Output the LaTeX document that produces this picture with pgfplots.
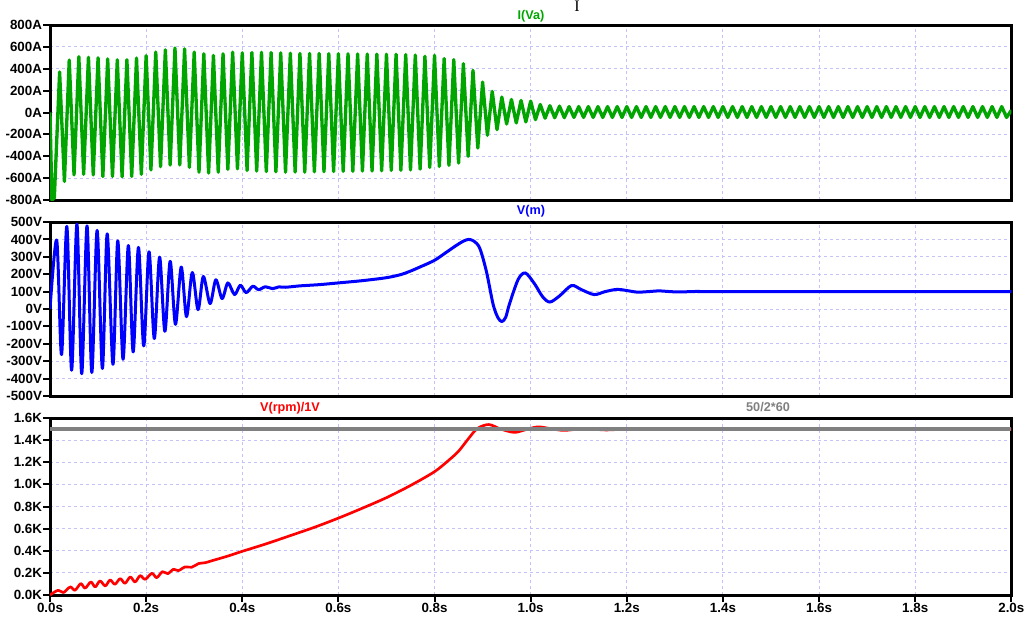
\documentclass[border=0pt]{standalone}
\usepackage{pgfplots}
\pgfplotsset{compat=1.18}
\usepackage{fontspec}
\setmainfont{Liberation Sans}
\newfontfamily\serifI{Liberation Serif}
\definecolor{ltgreen}{RGB}{0,165,0}
\definecolor{ltblue}{RGB}{0,0,255}
\definecolor{ltred}{RGB}{255,0,0}
\definecolor{ltgray}{RGB}{128,128,128}
\definecolor{gridc}{RGB}{195,195,250}
\pgfplotsset{ltsp/.style={
  scale only axis, width=721pt, xmin=0, xmax=2,
  xtick={0,0.2,0.4,0.6,0.8,1,1.2,1.4,1.6,1.8,2},
  grid=major,
  major grid style={gridc, line width=0.75pt, dash pattern=on 2.25pt off 2.25pt},
  axis line style={line width=2.25pt},
  tick align=outside, tick pos=left, major tick length=5.25pt,
  tick style={line width=1.5pt, black},
  ticklabel style={font=\fontsize{10}{11}\selectfont\bfseries},
  yticklabel style={inner sep=0.6pt},
  xticklabel style={inner sep=0.6pt},
}}
\begin{document}
\begin{tikzpicture}
\path[use as bounding box] (0,0) rectangle (773.25pt,-465.75pt);
% ---------- panel 1 ----------
\begin{axis}[ltsp, at={(37.5pt,-150pt)}, anchor=south west, height=131.25pt,
  ymin=-800, ymax=800,
  ytick={-800,-600,-400,-200,0,200,400,600,800},
  yticklabels={-800A,-600A,-400A,-200A,0A,200A,400A,600A,800A},
  xticklabels={}, major x tick style={draw=none}]
\addplot[ltgreen, line width=2.5pt, line join=round] coordinates {
(0,0) (0.004,-800) (0.009,-780) (0.02,370) (0.03,-630) (0.04,480) (0.05,-570) (0.06,510) (0.07,-565) (0.08,505) (0.09,-570) (0.10,500) (0.11,-585) (0.12,490) (0.13,-585) (0.14,482) (0.15,-588) (0.16,482) (0.17,-585) (0.18,497) (0.19,-565) (0.20,520) (0.21,-525) (0.22,552) (0.23,-495) (0.24,573) (0.25,-480) (0.26,590) (0.27,-480) (0.28,582) (0.29,-502) (0.30,552) (0.31,-545) (0.32,537) (0.33,-553) (0.34,522) (0.35,-545) (0.36,537) (0.37,-520) (0.38,552) (0.39,-515) (0.40,545) (0.41,-530) (0.42,548) (0.43,-535) (0.44,550) (0.45,-540) (0.46,548) (0.47,-542) (0.48,545) (0.49,-545) (0.50,542) (0.51,-545) (0.52,540) (0.53,-545) (0.54,540) (0.55,-543) (0.56,540) (0.57,-542) (0.58,538) (0.59,-540) (0.60,538) (0.61,-538) (0.62,536) (0.63,-538) (0.64,535) (0.65,-535) (0.66,535) (0.67,-535) (0.68,534) (0.69,-533) (0.70,533) (0.71,-530) (0.72,532) (0.73,-528) (0.74,530) (0.75,-525) (0.76,525) (0.77,-518) (0.78,514) (0.79,-502) (0.80,523) (0.81,-493) (0.82,493) (0.83,-483) (0.84,483) (0.85,-462) (0.86,447) (0.87,-401) (0.88,385) (0.89,-325) (0.90,278) (0.91,-208) (0.92,193) (0.93,-157) (0.94,141) (0.95,-105) (0.96,119) (0.97,-95) (0.98,110) (0.99,-86) (1.00,104) (1.01,-65) (1.02,73) (1.03,-52) (1.04,62) (1.05,-48) (1.06,58) (1.07,-47)
(1.08,54) (1.09,-45) (1.10,54) (1.11,-45) (1.12,54) (1.13,-45) (1.14,54) (1.15,-45) (1.16,54) (1.17,-45) (1.18,54) (1.19,-45) (1.20,54) (1.21,-45) (1.22,54) (1.23,-45) (1.24,54) (1.25,-45) (1.26,54) (1.27,-45) (1.28,54) (1.29,-45) (1.30,54) (1.31,-45) (1.32,54) (1.33,-45) (1.34,54) (1.35,-45) (1.36,54) (1.37,-45) (1.38,54) (1.39,-45) (1.40,54) (1.41,-45) (1.42,54) (1.43,-45) (1.44,54) (1.45,-45) (1.46,54) (1.47,-45) (1.48,54) (1.49,-45) (1.50,54) (1.51,-45) (1.52,54) (1.53,-45) (1.54,54) (1.55,-45) (1.56,54) (1.57,-45) (1.58,54) (1.59,-45) (1.60,54) (1.61,-45) (1.62,54) (1.63,-45) (1.64,54) (1.65,-45) (1.66,54) (1.67,-45) (1.68,54) (1.69,-45) (1.70,54) (1.71,-45) (1.72,54) (1.73,-45) (1.74,54) (1.75,-45) (1.76,54) (1.77,-45) (1.78,54) (1.79,-45) (1.80,54) (1.81,-45) (1.82,54) (1.83,-45) (1.84,54) (1.85,-45) (1.86,54) (1.87,-45) (1.88,54) (1.89,-45) (1.90,54) (1.91,-45) (1.92,54) (1.93,-45) (1.94,54) (1.95,-45) (1.96,54) (1.97,-45) (1.98,54) (1.99,-45) (2.00,20)
};
\end{axis}
% ---------- panel 2 ----------
\begin{axis}[ltsp, at={(37.5pt,-297pt)}, anchor=south west, height=130.5pt,
  ymin=-500, ymax=500,
  ytick={-500,-400,-300,-200,-100,0,100,200,300,400,500},
  yticklabels={-500V,-400V,-300V,-200V,-100V,0V,100V,200V,300V,400V,500V},
  xticklabels={}, major x tick style={draw=none}]
\addplot[ltblue, line width=2.25pt, smooth, line join=round] coordinates {
(0,0) (0.014,395) (0.024,-262) (0.035,475) (0.045,-352) (0.056,488) (0.066,-372) (0.077,478) (0.087,-365) (0.098,452) (0.109,-342) (0.119,432) (0.131,-318) (0.141,392) (0.152,-289) (0.163,365) (0.173,-247) (0.184,354) (0.195,-212) (0.206,329) (0.217,-170) (0.228,298) (0.239,-128) (0.250,274) (0.261,-88) (0.273,241) (0.284,-44) (0.296,210) (0.308,-4) (0.319,187) (0.333,31) (0.345,168) (0.358,60) (0.370,150) (0.384,83) (0.396,137) (0.408,94) (0.422,131) (0.434,111) (0.448,128) (0.463,117) (0.476,127) (0.49,125) (0.52,133) (0.56,140) (0.60,150) (0.65,163) (0.70,180) (0.73,198) (0.75,218) (0.771,243) (0.80,280) (0.823,323) (0.845,365) (0.86,390) (0.871,400) (0.882,390) (0.894,350) (0.908,215) (0.922,25) (0.932,-50) (0.94,-72) (0.948,-48) (0.956,30) (0.974,170) (0.989,207) (1.008,145) (1.025,70) (1.04,40) (1.06,75) (1.085,135) (1.105,112) (1.132,83) (1.155,100) (1.18,113) (1.2,106) (1.222,97) (1.245,100) (1.267,104) (1.29,100) (1.309,98) (1.35,101) (1.4,100) (2,100)
};
\end{axis}
% ---------- panel 3 ----------
\begin{axis}[ltsp, at={(37.5pt,-446.25pt)}, anchor=south west, height=132.75pt,
  ymin=0, ymax=1600,
  ytick={0,200,400,600,800,1000,1200,1400,1600},
  yticklabels={0.0K,0.2K,0.4K,0.6K,0.8K,1.0K,1.2K,1.4K,1.6K},
  xticklabels={0.0s,0.2s,0.4s,0.6s,0.8s,1.0s,1.2s,1.4s,1.6s,1.8s,2.0s}]
\addplot[ltred, line width=2pt, smooth, line join=round] coordinates {
(0,0) (0.017,43) (0.028,22) (0.042,73) (0.052,43) (0.064,103) (0.073,62) (0.085,118) (0.094,73) (0.104,127) (0.115,82) (0.125,136) (0.135,97) (0.146,148) (0.156,106) (0.167,163) (0.177,118) (0.1875,175) (0.198,142) (0.212,196) (0.222,157) (0.234,211) (0.245,193) (0.257,233) (0.267,220) (0.281,254) (0.295,251) (0.309,284) (0.323,292) (0.337,310) (0.37,352) (0.40,395) (0.45,463) (0.50,537) (0.55,612) (0.60,695) (0.65,785) (0.70,880) (0.75,990) (0.80,1115) (0.83,1220) (0.85,1300) (0.87,1410) (0.889,1505) (0.913,1541) (0.9375,1500) (0.966,1470) (0.99,1495) (1.015,1520) (1.04,1505) (1.069,1488) (1.11,1503) (1.157,1492) (1.2,1499) (1.3,1497) (2.0,1497)
};
\addplot[ltgray, line width=2.4pt] coordinates {(0,1500) (2,1500)};
\end{axis}
% ---------- trace labels ----------
\begin{scope}[every node/.style={font=\fontsize{9.5}{10}\selectfont\bfseries, inner sep=0pt, anchor=base}]
\node[text=ltgreen] at (398.25pt,-14.5pt) {I(Va)};
\node[text=ltblue] at (398.25pt,-161pt) {V(m)};
\node[text=ltred] at (217.5pt,-308.25pt) {V(rpm)/1V};
\node[text=ltgray] at (576pt,-308.25pt) {50/2*60};
\end{scope}
\node[anchor=base, inner sep=0pt, font=\serifI\fontsize{12}{12}\selectfont] at (432.75pt,-8.6pt) {I};
\end{tikzpicture}
\end{document}
